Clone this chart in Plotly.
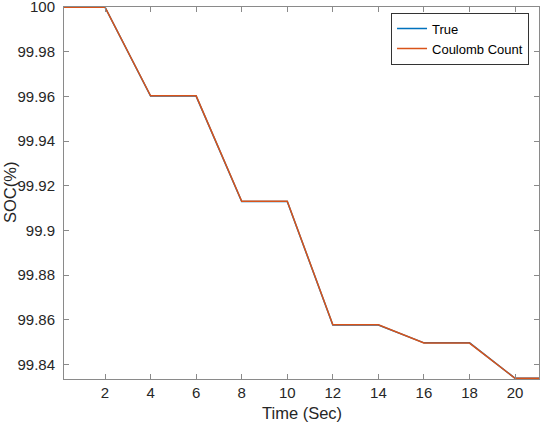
import plotly.graph_objects as go

# time (s) and state of charge (%)
time_s = [0.2, 2, 4, 6, 8, 10, 12, 14, 16, 18, 20, 21.05]
soc_true = [100, 100, 99.9602, 99.9602, 99.9130, 99.9130, 99.8577, 99.8577, 99.8497, 99.8497, 99.8338, 99.8338]
soc_cc = [100, 100, 99.9603, 99.9603, 99.9131, 99.9131, 99.8578, 99.8578, 99.8496, 99.8496, 99.8338, 99.8338]

x_ticks = [2, 4, 6, 8, 10, 12, 14, 16, 18, 20]
y_ticks = [99.84, 99.86, 99.88, 99.90, 99.92, 99.94, 99.96, 99.98, 100]
y_labels = ["99.84", "99.86", "99.88", "99.9", "99.92", "99.94", "99.96", "99.98", "100"]

FONT = "Liberation Sans, Arial, sans-serif"
AXIS_COLOR = "#8a8a8a"
TEXT_COLOR = "#262626"

fig = go.Figure()
fig.add_trace(go.Scatter(x=time_s, y=soc_true, mode="lines", name="True",
                         line=dict(color="#0072BD", width=1.5)))
fig.add_trace(go.Scatter(x=time_s, y=soc_cc, mode="lines", name="Coulomb Count",
                         line=dict(color="#D95319", width=1.5)))

axis_common = dict(
    showline=True, linecolor=AXIS_COLOR, linewidth=1, mirror="ticks",
    ticks="inside", ticklen=5, tickcolor=AXIS_COLOR, tickwidth=1,
    showgrid=False, zeroline=False, automargin=False,
    ticklabeloverflow="allow",
    tickfont=dict(family=FONT, size=15, color=TEXT_COLOR),
)

fig.update_xaxes(range=[0.2, 21.05], tickvals=x_ticks, **axis_common)
fig.update_yaxes(range=[99.8335, 100.0001], tickvals=y_ticks, ticktext=y_labels,
                 ticklabelstandoff=5, **axis_common)

# axis titles as annotations so their place is fixed
fig.add_annotation(text="Time (Sec)", xref="paper", yref="paper", x=0.5, y=0,
                   yanchor="middle", yshift=-34, showarrow=False,
                   font=dict(family=FONT, size=16.5, color=TEXT_COLOR))
fig.add_annotation(text="SOC(%)", xref="paper", yref="paper", x=0, y=0.5,
                   xanchor="center", xshift=-54, textangle=-90, showarrow=False,
                   font=dict(family=FONT, size=16.5, color=TEXT_COLOR))

fig.update_layout(
    width=540, height=424,
    margin=dict(l=64, r=1, t=7, b=45),
    paper_bgcolor="white", plot_bgcolor="white",
    legend=dict(
        x=0.979, y=0.985, xanchor="right", yanchor="top",
        bgcolor="white", bordercolor="#333333", borderwidth=1,
        font=dict(family=FONT, size=13, color="black"),
        tracegroupgap=0, itemwidth=30,
    ),
)

fig.write_html("out.html", config={"displayModeBar": False},
               post_script="document.body.style.margin='0';")
